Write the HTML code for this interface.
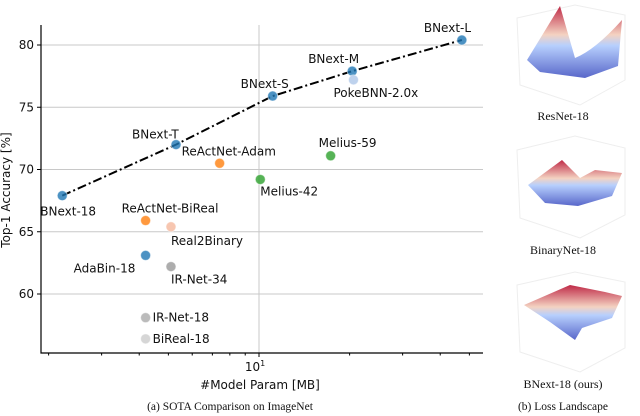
<!DOCTYPE html>
<html><head><meta charset="utf-8"><style>
body{margin:0;background:#fff;width:640px;height:416px;overflow:hidden}
svg{display:block}
.t{font-family:"DejaVu Sans","Liberation Sans",sans-serif;font-size:12px;fill:#111}
.s{font-family:"Liberation Serif",serif;font-size:12px;fill:#111}
</style></head><body>
<svg id="chart" width="640" height="416">
<g id="grid"></g>
<g id="axes"></g>
<g id="line"></g>
<g id="pts"></g>
<text class="t" x="260" y="389" text-anchor="middle">#Model Param [MB]</text>
<text class="t" transform="translate(10,190) rotate(-90)" text-anchor="middle">Top-1 Accuracy [%]</text>
<text class="s" x="230" y="410" text-anchor="middle" style="font-size:11.5px">(a) SOTA Comparison on ImageNet</text>
<text class="s" x="563" y="410" text-anchor="middle" style="font-size:11.5px">(b) Loss Landscape</text>
<defs>
<linearGradient id="cw" x1="0" y1="1" x2="0" y2="0"><stop offset="0" stop-color="#3b4cc0"/><stop offset="0.45" stop-color="#aac7fd"/><stop offset="0.6" stop-color="#f2cbb7"/><stop offset="1" stop-color="#b40426"/></linearGradient>
</defs>
<g>
<path d="M517 18 L575 5 L625 15 L625 80 L580 105 L520 85Z" fill="none" stroke="#eee"/>
<path d="M527 60 L560 6 L575 58 Q595 50 622 20 L618 66 L585 78 L540 72Z" fill="url(#cw)" opacity="0.85"/>
<text class="s" x="563" y="120" text-anchor="middle">ResNet-18</text></g>
<g>
<path d="M517 150 L575 136 L625 148 L625 215 L580 238 L520 218Z" fill="none" stroke="#eee"/>
<path d="M528 185 L562 160 L580 178 L595 170 L622 173 L612 196 L578 206 L545 203Z" fill="url(#cw)" opacity="0.85"/>
<text class="s" x="563" y="254" text-anchor="middle">BinaryNet-18</text></g>
<g>
<path d="M517 285 L575 272 L625 282 L625 348 L580 372 L520 352Z" fill="none" stroke="#eee"/>
<path d="M524 305 L570 285 L605 292 L622 296 L612 318 L582 328 L575 340 L550 322Z" fill="url(#cw)" opacity="0.85"/>
<text class="s" x="563" y="388" text-anchor="middle">BNext-18 (ours)</text></g>
</svg>
<script>
const names=["BNext-18","BNext-T","BNext-S","BNext-M","BNext-L","ReActNet-Adam","Melius-42","Melius-59","PokeBNN-2.0x","ReActNet-BiReal","Real2Binary","AdaBin-18","IR-Net-34","IR-Net-18","BiReal-18"];
const sizes=[2.22,5.3,11.1,20.4,47.2,7.4,10.1,17.3,20.6,4.2,5.1,4.2,5.1,4.2,4.2];
const accs=[67.9,72.0,75.9,77.9,80.4,70.5,69.2,71.1,77.2,65.9,65.4,63.1,62.2,58.1,56.4];
const colors=["#1f77b4","#1f77b4","#1f77b4","#1f77b4","#1f77b4","#ff7f0e","#2ca02c","#2ca02c","#aec7e8","#ff7f0e","#f5b89c","#1f77b4","#999999","#aaaaaa","#cccccc"];
const labelDx=[-22,-44,-32,-44,-38,-38,0,-12,-20,-24,0,-72,0,7,7];
const labelDy=[20,-6,-8,-8,-8,-8,16,-9,17,-8,18,17,17,4,4];
const yTicks=[60,65,70,75,80];
const bnextIdx=[0,1,2,3,4];
const NS="http://www.w3.org/2000/svg";
const L=41,R=483,T=25,B=353;
const X=v=>259+301*Math.log10(v/10);
const Y=a=>45+(80-a)*12.45;
function mk(p,tag,at){const e=document.createElementNS(NS,tag);for(const k in at)e.setAttribute(k,at[k]);p.appendChild(e);return e;}
const grid=document.getElementById('grid'),axes=document.getElementById('axes');
yTicks.forEach(t=>{
 const g=mk(grid,'line',{x1:L,x2:R,y1:Y(t),y2:Y(t),stroke:'#c8c8c8','stroke-width':1});
 
 
 const tk=mk(axes,'line',{x1:L-4,x2:L,y1:Y(t),y2:Y(t),stroke:'#000'});
 
 
 const tx=mk(axes,'text',{x:L-7,y:Y(t)+4,'text-anchor':'end',class:'t'});tx.textContent=t;
 
 
});
const vg=mk(grid,'line',{x1:X(10),x2:X(10),y1:T,y2:B,stroke:'#c8c8c8'});


[2,3,4,5,6,7,8,9,20,30,40,50].forEach(v=>{const m=mk(axes,'line',{x1:X(v),x2:X(v),y1:B,y2:B+2.5,stroke:'#000'});
 
 });
const mj=mk(axes,'line',{x1:X(10),x2:X(10),y1:B,y2:B+4,stroke:'#000'});


const xl=mk(axes,'text',{x:X(10)-4,y:B+18,'text-anchor':'middle',class:'t'});xl.innerHTML='10<tspan dy="-5" font-size="8">1</tspan>';


const sp=mk(axes,'path',{d:`M${L} ${T}V${B}H${R}`,fill:'none',stroke:'#000','stroke-width':1.2});


const ln=mk(document.getElementById('line'),'polyline',{points:bnextIdx.map(i=>X(sizes[i])+','+Y(accs[i])).join(' '),fill:'none',stroke:'#000','stroke-width':2,'stroke-dasharray':'9 3 2 3'});


const pts=document.getElementById('pts');
names.forEach((n,i)=>{
 const x=X(sizes[i]),y=Y(accs[i]);
 const c=mk(pts,'circle',{cx:x,cy:y,r:5,fill:colors[i],'fill-opacity':0.8,stroke:'#fff','stroke-opacity':0.5,'stroke-width':1});
 
 
 const t=mk(pts,'text',{x:x+labelDx[i],y:y+labelDy[i],class:'t'});t.textContent=n;
 
 
});
</script>
</body></html>
